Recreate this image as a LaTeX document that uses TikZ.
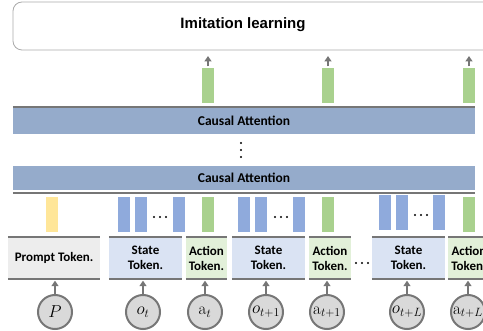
\documentclass[tikz,border=0pt]{standalone}
\usepackage{fontspec}
\newfontfamily\headfont{Liberation Sans}
\newfontfamily\tokenfont{Carlito}
\usetikzlibrary{arrows.meta}

\definecolor{attnblue}{RGB}{149,171,203}
\definecolor{vecblue}{RGB}{143,170,220}
\definecolor{actgreen}{RGB}{169,209,142}
\definecolor{promptyellow}{RGB}{255,230,153}
\definecolor{stateblue}{RGB}{218,227,243}
\definecolor{actionlight}{RGB}{226,240,217}
\definecolor{promptgray}{RGB}{237,237,237}
\definecolor{rulegray}{RGB}{118,118,118}
\definecolor{circlegray}{RGB}{217,217,217}
\definecolor{boxgray}{RGB}{170,170,170}

\tikzset{
  rule/.style={draw=rulegray,line width=2.5pt},
  layer/.style={fill=attnblue,minimum width=462pt,inner sep=0pt,
    font=\tokenfont\bfseries\fontsize{13.5}{15}\selectfont},
  tokenbox/.style={minimum height=42pt,inner sep=0pt,align=center,
    font=\tokenfont\bfseries\fontsize{13}{15}\selectfont},
  embed/.style={circle,minimum size=34pt,inner sep=0pt,fill=circlegray,
    draw=rulegray,line width=2pt,font=\fontsize{17}{20}\selectfont},
  feed/.style={draw=rulegray,line width=2pt,-{Triangle[length=5.5pt,width=7pt]}},
  vec/.style={inner sep=0pt,minimum width=12pt,minimum height=35pt},
  dot/.style={circle,fill=black,inner sep=0pt,minimum size=2.2pt}
}

\begin{document}
\begin{tikzpicture}[x=1pt,y=-1pt]
  % Canvas
  \path[use as bounding box] (0,0) rectangle (483,331);
  \clip (0,0) rectangle (483,331);
  % Output head
  \draw[boxgray,line width=0.8pt,rounded corners=9pt] (13,2) rectangle (500,50);
  \node[font=\headfont\bfseries\fontsize{15}{18}\selectfont] (head) at (243,25) {Imitation learning};
  % Predicted actions
  \foreach \x/\n in {208/1,328/2,469/3} {
    \node[vec,fill=actgreen] (out\n) at (\x,86) {};
    \coordinate (tip\n) at (\x,56);
    \draw[feed] ([yshift=2pt]out\n.north) -- (tip\n);
  }
  % Attention layers
  \node[layer,minimum height=26pt] (attn2) at (244,121) {Causal Attention};
  \draw[rule,line width=2pt] ([yshift=1pt]attn2.north west) -- ([yshift=1pt]attn2.north east);
  \foreach \y in {143,150,157}
    \node[dot] at (241,\y) {};
  \node[layer,minimum height=24pt] (attn1) at (244,178) {Causal Attention};
  \draw[rule,line width=2pt] ([yshift=-3pt]attn1.south west) -- ([yshift=-3pt]attn1.south east);
  % Input embeddings
  \node[vec,fill=promptyellow] (vp) at (52,214.5) {};
  \foreach \g/\a/\b/\c/\d/\e/\s in {1/124/141/179/160/208/0,2/244/261/299/281/328/0,3/385/402/439/421/469/-2} {
    \foreach \x/\k in {\a/1,\b/2,\c/3}
      \node[vec,fill=vecblue] (v\g\k) at (\x,214.5+\s) {};
    \foreach \dx in {-6,0,6}
      \node[dot] at (\d+\dx,217+\s) {};
    \node[vec,fill=actgreen] (va\g) at (\e,214.5) {};
  }
  % Token blocks
  \foreach \n/\x/\w/\c/\t in {p/54/92/promptgray/Prompt Token.,
      s1/145.5/73/stateblue/State\\Token.,a1/206.5/41/actionlight/Action\\Token.,
      s2/268.5/73/stateblue/State\\Token.,a2/330/42/actionlight/Action\\Token.,
      s3/408.5/73/stateblue/State\\Token.,a3/469/42/actionlight/Action\\Token.} {
    \node[tokenbox,fill=\c,minimum width=\w pt] (\n) at (\x,258) {\t};
    \draw[rule] (\n.north west) -- (\n.north east);
    \draw[rule] (\n.south west) -- (\n.south east);
  }
  \foreach \dx in {-6,0,6}
    \node[dot] at (362+\dx,263) {};
  % Observations and actions
  \foreach \n/\x/\b/\l in {cp/55/p/{$P$},co1/143/s1/{$o_t$},ca1/205/a1/{$\mathrm{a}_t$},
      co2/266/s2/{$o_{t+1}$},ca2/327/a2/{$\mathrm{a}_{t+1}$},
      co3/407/s3/{$o_{t+L}$},ca3/468/a3/{$\mathrm{a}_{t+L}$}} {
    \node[embed] (\n) at (\x,312) {\l};
    \draw[feed,shorten >=1.5pt] (\n.north) -- (\n.north |- \b.south);
  }
\end{tikzpicture}
\end{document}
